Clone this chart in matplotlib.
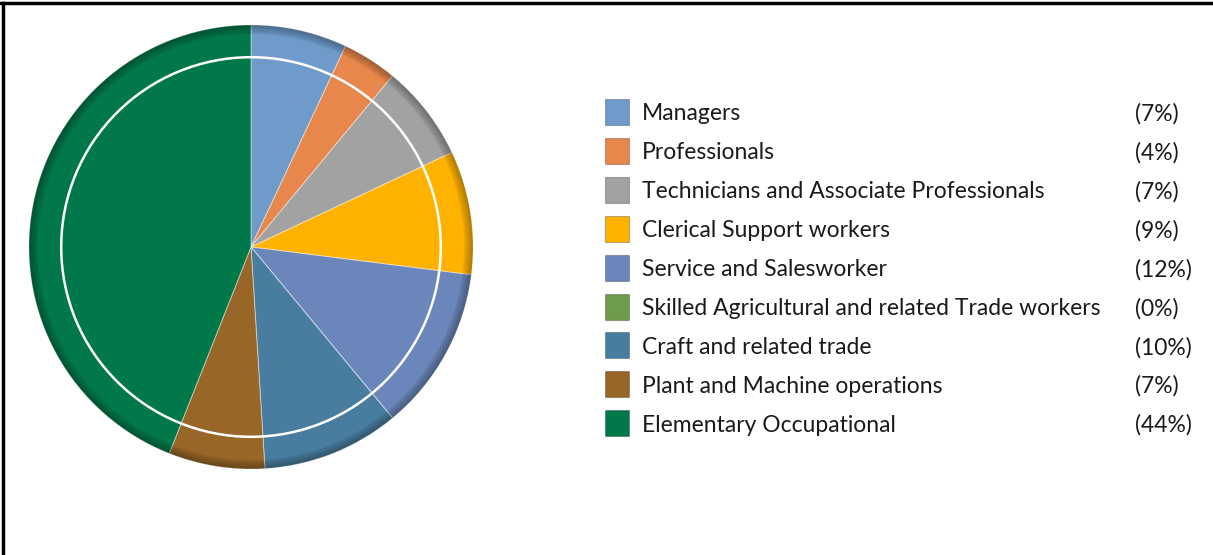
import matplotlib.pyplot as plt
from matplotlib.patches import Wedge, Circle, Rectangle
from matplotlib.lines import Line2D

# occupation shares (percent), clockwise from 12 o'clock
labels = [
    "Managers",
    "Professionals",
    "Technicians and Associate Professionals",
    "Clerical Support workers",
    "Service and Salesworker",
    "Skilled Agricultural and related Trade workers",
    "Craft and related trade",
    "Plant and Machine operations",
    "Elementary Occupational",
]
shares = [7, 4, 7, 9, 12, 0, 10, 7, 44]
colors = ["#6f9bcb", "#e8874c", "#a2a2a2", "#ffb300", "#6a86ba",
          "#6f9b4c", "#487d9f", "#986626", "#00784a"]

W, H = 1213, 555
fig = plt.figure(figsize=(W / 100, H / 100), dpi=100)
fig.patch.set_facecolor("white")

# pie: centre (251, 247) px, radius 222 px
cx, cy, R = 251, 247, 222
half = 240
ax = fig.add_axes([(cx - half) / W, (H - cy - half) / H, 2 * half / W, 2 * half / H])

ax.pie(shares, colors=colors, startangle=90, counterclock=False, radius=1.0,
       wedgeprops=dict(edgecolor=(1, 1, 1, 0.45), linewidth=0.7))

# darker rim near the outer edge
steps = 8
for i in range(steps):
    r = 1.0 - i * 0.005
    ax.add_patch(Wedge((0, 0), r, 0, 360, width=0.005,
                       facecolor="black", edgecolor="none",
                       alpha=0.04 + 0.035 * (steps - i)))

# thin white ring inside the pie
ax.add_patch(Circle((0, 0), 0.855, fill=False, edgecolor="white", linewidth=1.8))

# pie() resets the limits, so set them afterwards
lim = half / R
ax.set_xlim(-lim, lim)
ax.set_ylim(-lim, lim)
ax.set_aspect("equal")
ax.axis("off")

# legend drawn in pixel coordinates on an overlay
lg = fig.add_axes([0, 0, 1, 1])
lg.set_xlim(0, W)
lg.set_ylim(H, 0)
lg.axis("off")
lg.patch.set_alpha(0)

row0, step = 112, 38.9
for i, (name, val, col) in enumerate(zip(labels, shares, colors)):
    y = row0 + step * i
    lg.add_patch(Rectangle((605, y - 13), 24, 26, facecolor=col,
                           edgecolor=(0, 0, 0, 0.25), linewidth=0.8))
    lg.text(642, y + 2, name, fontsize=16.5, family="Lato", color="#1a1a1a",
            va="center", ha="left")
    lg.text(1135, y + 2, "(%d%%)" % val, fontsize=16.5, family="Lato", color="#1a1a1a",
            va="center", ha="left")

# frame lines along the top and left edges
fig.add_artist(Line2D([0, 1], [1 - 3 / H, 1 - 3 / H], color="black", linewidth=2.5))
fig.add_artist(Line2D([3 / W, 3 / W], [0, 1 - 3 / H], color="black", linewidth=2.5))

fig.savefig("out.png", dpi=100, facecolor="white")
